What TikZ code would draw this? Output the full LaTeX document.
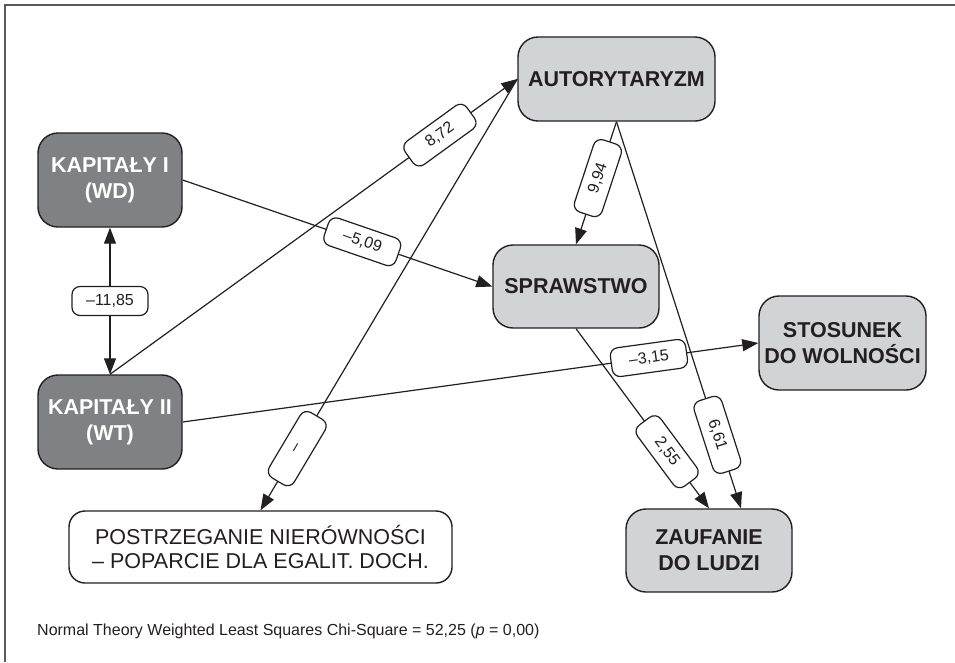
\documentclass[tikz,border=0pt]{standalone}
\usepackage{fontspec}
\setmainfont{Liberation Sans}
\usetikzlibrary{arrows.meta}
\definecolor{ink}{HTML}{231F20}
\definecolor{darkbox}{HTML}{808184}
\definecolor{lightbox}{HTML}{D1D3D4}
\definecolor{framec}{HTML}{58595B}
\tikzset{
  vbox/.style={draw=ink, line width=1.4pt, rounded corners=20pt, align=center, inner sep=2pt},
  darkvar/.style={vbox, fill=darkbox, text=white, font=\fontsize{21.5}{26}\selectfont\bfseries},
  lightvar/.style={vbox, fill=lightbox, text=ink, font=\fontsize{21.5}{26}\selectfont\bfseries},
  whitevar/.style={vbox, fill=white, text=ink, rounded corners=16pt, font=\fontsize{21.5}{24}\selectfont},
  coef/.style={draw=ink, fill=white, line width=1.2pt, rounded corners=8pt, minimum width=76pt, minimum height=29pt, inner sep=1pt, text=ink, font=\fontsize{16}{18}\selectfont},
  path/.style={draw=ink, line width=1.2pt, -{Triangle[length=16pt,width=12pt]}},
}
\begin{document}
\begin{tikzpicture}[x=1pt,y=-1pt]
\useasboundingbox (0,0) rectangle (955,662);
\draw[framec, line width=1.5pt] (5,662) -- (5,5) -- (955,5);

\node[darkvar, minimum width=144pt, minimum height=94pt] (k1) at (110,180) {KAPITAŁY I\\(WD)};
\node[darkvar, minimum width=144pt, minimum height=94pt] (k2) at (110,422) {KAPITAŁY II\\(WT)};
\node[lightvar, minimum width=197pt, minimum height=84pt] (aut) at (616.5,79) {AUTORYTARYZM};
\node[lightvar, minimum width=166pt, minimum height=83pt] (spr) at (576,286.5) {SPRAWSTWO};
\node[lightvar, minimum width=167pt, minimum height=94pt] (sto) at (842.5,343) {STOSUNEK\\DO WOLNOŚCI};
\node[lightvar, minimum width=166pt, minimum height=83pt] (zau) at (709,550.5) {ZAUFANIE\\DO LUDZI};
\node[whitevar, minimum width=383pt, minimum height=72pt] (post) at (260.5,547) {POSTRZEGANIE NIERÓWNOŚCI\\– POPARCIE DLA EGALIT. DOCH.};

\node[anchor=base west, inner sep=0pt, text=ink, font=\fontsize{16}{18}\selectfont] (fit) at (37,635)
  {Normal Theory Weighted Least Squares Chi-Square = 52,25 (\textit{p} = 0,00)};

\draw[path, {Triangle[length=16pt,width=12pt]}-{Triangle[length=16pt,width=12pt]}] (k2.north) -- node[coef, minimum width=76pt] {–11,85} (k1.south);
\draw[path] (k2.north) -- node[coef, sloped, pos=0.81] {8,72} (aut.west);
\draw[path] (aut.west) -- node[coef, sloped, pos=0.857] {–} (post.north);
\draw[path] (k1.east) -- node[coef, sloped, pos=0.58] {–5,09} (spr.west);
\draw[path] (aut.south) -- node[coef, sloped, pos=0.46] {9,94} (spr.north);
\draw[path] (aut.south) -- node[coef, sloped, pos=0.81] {6,61} ([xshift=32pt]zau.north);
\draw[path] (spr.south) -- node[coef, sloped, pos=0.685] {2,55} (zau.north);
\draw[path] (k2.east) -- node[coef, sloped, pos=0.81] {–3,15} (sto.west);
\end{tikzpicture}
\end{document}
